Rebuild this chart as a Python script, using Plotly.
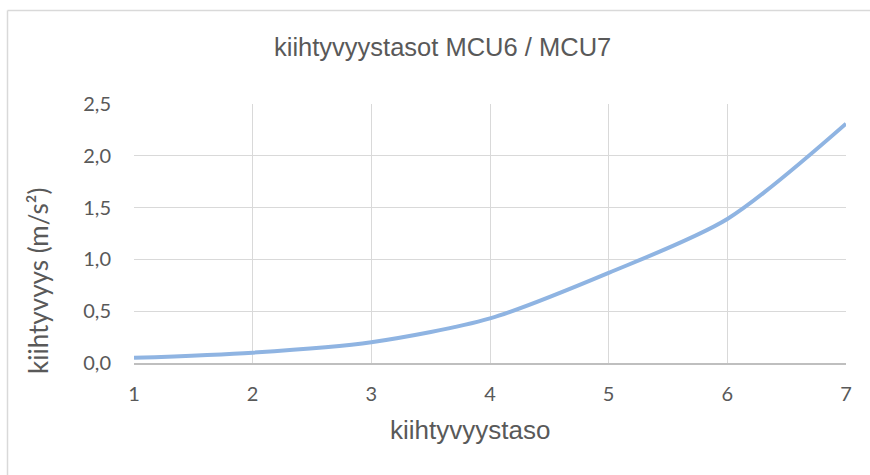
import plotly.graph_objects as go

# acceleration per level
levels = [1, 2, 3, 4, 5, 6, 7]
acceleration = [0.05, 0.10, 0.20, 0.43, 0.87, 1.39, 2.31]
y_ticks = [0.0, 0.5, 1.0, 1.5, 2.0, 2.5]
y_tick_labels = ["0,0", "0,5", "1,0", "1,5", "2,0", "2,5"]

W, H = 870, 475
L, R, T, B = 134, 24, 104, 112
pw, ph = W - L - R, H - T - B


def px(x):
    return (x - L) / pw


def py(y):
    return (H - B - y) / ph


grid = "#d9d9d9"
text_col = "#595959"
tick_font = dict(family="Lato, Carlito, sans-serif", size=20, color=text_col)

fig = go.Figure()
fig.add_trace(go.Scatter(
    x=levels, y=acceleration, mode="lines",
    line=dict(color="#8fb4e2", width=4, shape="spline", smoothing=0.8),
    showlegend=False, hoverinfo="x+y",
))

fig.update_layout(
    width=W, height=H,
    margin=dict(l=L, r=R, t=T, b=B, pad=0),
    paper_bgcolor="white", plot_bgcolor="white",
    xaxis=dict(
        range=[1, 7], tickvals=levels, ticktext=[str(v) for v in levels],
        showgrid=True, gridcolor=grid, gridwidth=1.3,
        showline=True, linecolor="#bfbfbf", linewidth=1.5,
        zeroline=False, ticks="", tickfont=tick_font, ticklabelstandoff=12,
        fixedrange=True,
    ),
    yaxis=dict(
        range=[0, 2.5], tickvals=y_ticks, ticktext=y_tick_labels,
        showgrid=True, gridcolor=grid, gridwidth=1.3,
        showline=False, zeroline=False, ticks="", tickfont=tick_font,
        ticklabelstandoff=22, fixedrange=True,
    ),
    annotations=[
        dict(text="kiihtyvyystasot MCU6 / MCU7", xref="paper", yref="paper",
             x=px(442), y=py(47), xanchor="center", yanchor="middle",
             showarrow=False,
             font=dict(family="Liberation Sans, Arial, sans-serif", size=25.5, color=text_col)),
        dict(text="kiihtyvyystaso", xref="paper", yref="paper",
             x=px(470), y=py(430), xanchor="center", yanchor="middle",
             showarrow=False,
             font=dict(family="Liberation Sans, Arial, sans-serif", size=26, color=text_col)),
        dict(text="kiihtyvyys (m/s²)", xref="paper", yref="paper",
             x=px(38), y=py(281), xanchor="center", yanchor="middle",
             textangle=-90, showarrow=False,
             font=dict(family="Lato, Carlito, sans-serif", size=26, color=text_col)),
    ],
    shapes=[
        dict(type="line", xref="paper", yref="paper",
             x0=px(7.5), x1=px(880), y0=py(10.5), y1=py(10.5),
             line=dict(color=grid, width=1.5)),
        dict(type="line", xref="paper", yref="paper",
             x0=px(7.5), x1=px(7.5), y0=py(10.5), y1=py(490),
             line=dict(color=grid, width=1.5)),
    ],
)

fig.write_html("out.html")
